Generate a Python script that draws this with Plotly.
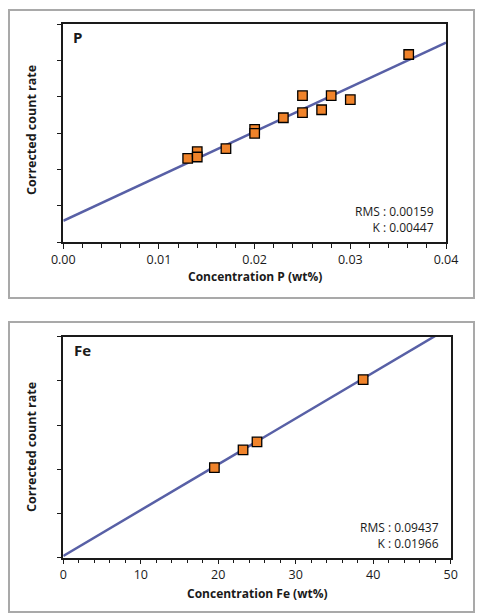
import plotly.graph_objects as go

# Page body has an 8px default margin, so the figure is offset by (8, 8)
OFF = 8
W, H = 484 - OFF, 616 - OFF

# ---- Data: P panel ----
p_conc = [0.0130, 0.0140, 0.0140, 0.0170, 0.0200, 0.0200, 0.0230, 0.0250, 0.0250, 0.0270, 0.0280, 0.0300, 0.0361]
p_rate = [2.30, 2.49, 2.34, 2.57, 3.10, 2.99, 3.42, 4.03, 3.56, 3.64, 4.03, 3.92, 5.16]
p_fit_x = [0.0, 0.04]
p_fit_y = [0.585, 5.49]
p_stats = ["RMS : 0.00159", "K : 0.00447"]

# ---- Data: Fe panel ----
fe_conc = [19.5, 23.2, 25.0, 38.7]
fe_rate = [2.04, 2.44, 2.62, 4.03]
fe_fit_x = [0.0, 50.0]
fe_fit_y = [0.04, 5.225]
fe_stats = ["RMS : 0.09437", "K : 0.01966"]

FONT = "Open Sans"
LINE_C = "#5860a6"
MARK_C = "#f0832a"
AX_C = "#1a1a1a"
TXT_C = "#1a1a1a"

def px_x(x):
    return (x - OFF) / W

def px_y(y):
    return 1 - (y - OFF) / H

fig = go.Figure()

fig.add_trace(go.Scatter(x=p_fit_x, y=p_fit_y, mode="lines",
                         line=dict(color=LINE_C, width=2.5), xaxis="x", yaxis="y",
                         showlegend=False, hoverinfo="skip"))
fig.add_trace(go.Scatter(x=p_conc, y=p_rate, mode="markers",
                         marker=dict(symbol="square", size=9.5, color=MARK_C,
                                     line=dict(color="black", width=1.3)),
                         xaxis="x", yaxis="y", showlegend=False, cliponaxis=False))
fig.add_trace(go.Scatter(x=fe_fit_x, y=fe_fit_y, mode="lines",
                         line=dict(color=LINE_C, width=2.5), xaxis="x2", yaxis="y2",
                         showlegend=False, hoverinfo="skip"))
fig.add_trace(go.Scatter(x=fe_conc, y=fe_rate, mode="markers",
                         marker=dict(symbol="square", size=9.5, color=MARK_C,
                                     line=dict(color="black", width=1.3)),
                         xaxis="x2", yaxis="y2", showlegend=False, cliponaxis=False))

common_x = dict(showgrid=False, zeroline=False, showline=True, linecolor=AX_C, linewidth=1.5,
                mirror=True, ticks="outside", ticklen=5, tickcolor=AX_C, tickwidth=1,
                automargin=False,
                tickfont=dict(family=FONT, size=12.5, color=TXT_C))
common_y = dict(showgrid=False, zeroline=False, showline=True, linecolor=AX_C, linewidth=1.5,
                mirror=True, ticks="outside", ticklen=5, tickcolor=AX_C, tickwidth=1,
                automargin=False, showticklabels=False, dtick=1, tick0=0)

fig.update_layout(
    width=W, height=H,
    margin=dict(l=0, r=0, t=0, b=0),
    paper_bgcolor="white", plot_bgcolor="white",
    font=dict(family=FONT, color=TXT_C),
    xaxis=dict(common_x, domain=[px_x(63.3), px_x(446)], range=[0, 0.04], dtick=0.01,
               tickformat=".2f", anchor="y",
               minor=dict(dtick=0.002, ticks="outside", ticklen=4, tickcolor=AX_C)),
    yaxis=dict(common_y, domain=[px_y(242), px_y(24)], range=[0, 6], anchor="x"),
    xaxis2=dict(common_x, domain=[px_x(63.3), px_x(450.7)], range=[0, 50], dtick=10,
                anchor="y2",
                minor=dict(dtick=2, ticks="outside", ticklen=4, tickcolor=AX_C)),
    yaxis2=dict(common_y, domain=[px_y(557.7), px_y(336.7)], range=[0, 5], anchor="x2"),
)

# Gray panel frames
for (x0, y0, x1, y1) in [(9, 10, 474, 298), (9, 322, 474, 612)]:
    fig.add_shape(type="rect", xref="paper", yref="paper",
                  x0=px_x(x0), x1=px_x(x1), y0=px_y(y1), y1=px_y(y0),
                  line=dict(color="#a9a9a9", width=2), fillcolor="rgba(0,0,0,0)", layer="below")

def ann(text, x, y, xanchor="center", size=12, angle=0, align="center"):
    fig.add_annotation(text=text, xref="paper", yref="paper", x=px_x(x), y=px_y(y),
                       xanchor=xanchor, yanchor="middle", showarrow=False, textangle=angle,
                       align=align, font=dict(family=FONT, size=size, color=TXT_C))

# Axis titles
ann("<b>Concentration P (wt%)</b>", 254.5, 277, size=12)
ann("<b>Concentration Fe (wt%)</b>", 257, 593, size=12)
ann("<b>Corrected count rate</b>", 31, 130, size=12.5, angle=-90)
ann("<b>Corrected count rate</b>", 31, 447, size=12.5, angle=-90)

# Panel labels
ann("<b>P</b>", 71, 37, xanchor="left", size=15)
ann("<b>Fe</b>", 72, 350, xanchor="left", size=15)

# Fit statistics
ann("<br>".join(p_stats), 436, 219, xanchor="right", size=12, align="right")
ann("<br>".join(fe_stats), 441, 535, xanchor="right", size=12, align="right")

fig.write_html("out.html")
